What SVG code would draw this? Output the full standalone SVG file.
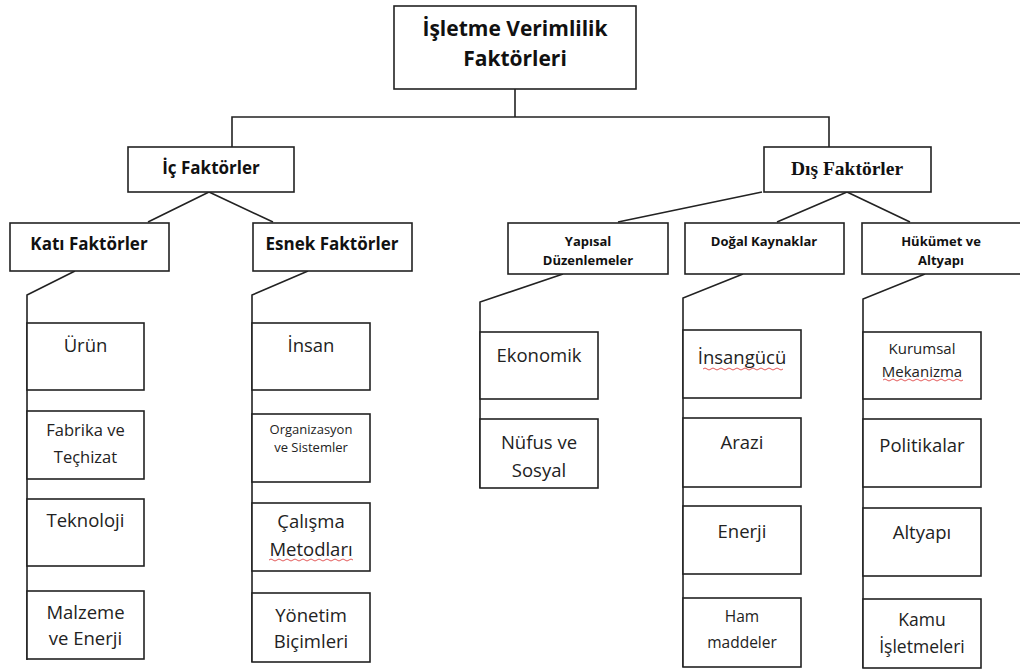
<svg xmlns="http://www.w3.org/2000/svg" width="1020" height="671" viewBox="0 0 1020 671">
<style>
.box{fill:#fff;stroke:#222;stroke-width:1.6}
.con{fill:none;stroke:#222;stroke-width:1.6}
.t{font-family:"Open Sans","Noto Sans",sans-serif;fill:#222;text-anchor:middle}
.b{font-weight:bold;fill:#111}
.serif{font-family:"Liberation Serif","Times New Roman",serif;font-weight:bold;fill:#111;text-anchor:middle}
.r{font-size:18.5px}
.sq{fill:none;stroke:#e04848;stroke-width:0.9}
</style>
<rect width="1020" height="671" fill="#fff"/>
<g id="connectors">
<path class="con" d="M515,89 V117 M232,147 V117 H829 V147"/>
<path class="con" d="M209,192 L148,222 M209,192 L273,222"/>
<path class="con" d="M75,271 L27,295 V660"/>
<path class="con" d="M308,271 L252,295 V662"/>
<path class="con" d="M762,192 L618,222 M847,192 L777,222 M847,192 L910,222"/>
<path class="con" d="M563,274 L480,302 V488"/>
<path class="con" d="M743,274 L683,298 V667"/>
<path class="con" d="M925,274 L863,299 V668"/>
</g>
<g id="root"><rect class="box" x="394" y="6" width="242" height="83"/>
<text class="t b" x="515" y="36" font-size="21">İşletme Verimlilik</text>
<text class="t b" x="515" y="66" font-size="21">Faktörleri</text></g>
<g id="ic"><rect class="box" x="128" y="147" width="166" height="45"/>
<text class="t b" x="211" y="174" font-size="17">İç Faktörler</text></g>
<g id="dis"><rect class="box" x="764" y="147" width="167" height="45"/>
<text class="serif" x="847" y="175" font-size="19.5">Dış Faktörler</text></g>
<g id="kati"><rect class="box" x="10" y="223" width="159" height="48"/>
<text class="t b" x="89" y="250" font-size="17">Katı Faktörler</text></g>
<g id="esnek"><rect class="box" x="253" y="223" width="159" height="48"/>
<text class="t b" x="332" y="250" font-size="17">Esnek Faktörler</text></g>
<g id="yapisal"><rect class="box" x="508" y="223" width="160" height="51"/>
<text class="t b" x="588" y="246" font-size="13">Yapısal</text>
<text class="t b" x="588" y="265" font-size="13">Düzenlemeler</text></g>
<g id="dogal"><rect class="box" x="685" y="223" width="159" height="51"/>
<text class="t b" x="764" y="246" font-size="13">Doğal Kaynaklar</text></g>
<g id="hukumet"><rect class="box" x="862" y="223" width="170" height="51"/>
<text class="t b" x="941" y="246" font-size="13">Hükümet ve</text>
<text class="t b" x="941" y="265" font-size="13">Altyapı</text></g>

<g id="urun"><rect class="box" x="27" y="323" width="117" height="67"/>
<text class="t r" x="85.5" y="352">Ürün</text></g>
<g id="fabrika"><rect class="box" x="27" y="411" width="117" height="68"/>
<text class="t" x="85.5" y="436" font-size="16.5">Fabrika ve</text>
<text class="t" x="85.5" y="463" font-size="16.5">Teçhizat</text></g>
<g id="teknoloji"><rect class="box" x="27" y="499" width="117" height="67"/>
<text class="t r" x="85.5" y="527">Teknoloji</text></g>
<g id="malzeme"><rect class="box" x="27" y="591" width="117" height="68"/>
<text class="t r" x="85.5" y="619">Malzeme</text>
<text class="t r" x="85.5" y="645">ve Enerji</text></g>

<g id="insan"><rect class="box" x="252" y="323" width="118" height="67"/>
<text class="t r" x="311" y="352">İnsan</text></g>
<g id="organizasyon"><rect class="box" x="252" y="414" width="118" height="68"/>
<text class="t" x="311" y="434" font-size="13" font-weight="500">Organizasyon</text>
<text class="t" x="311" y="452" font-size="13" font-weight="500">ve Sistemler</text></g>
<g id="calisma"><rect class="box" x="252" y="503" width="118" height="68"/>
<text class="t r" x="311" y="528">Çalışma</text>
<text class="t r" x="311" y="556">Metodları</text>
<path class="sq" d="M269,560 q2,-2 4,0 t4,0 t4,0 t4,0 t4,0 t4,0 t4,0 t4,0 t4,0 t4,0 t4,0 t4,0 t4,0 t4,0 t4,0 t4,0 t4,0 t4,0 t4,0 t4,0 t4,0"/></g>
<g id="yonetim"><rect class="box" x="252" y="593" width="118" height="69"/>
<text class="t r" x="311" y="622">Yönetim</text>
<text class="t r" x="311" y="648">Biçimleri</text></g>

<g id="ekonomik"><rect class="box" x="480" y="332" width="118" height="67"/>
<text class="t r" x="539" y="362">Ekonomik</text></g>
<g id="nufus"><rect class="box" x="480" y="419" width="118" height="69"/>
<text class="t r" x="539" y="449">Nüfus ve</text>
<text class="t r" x="539" y="477">Sosyal</text></g>

<g id="insangucu"><rect class="box" x="683" y="330" width="118" height="68"/>
<text class="t r" x="742" y="364">İnsangücü</text>
<path class="sq" d="M703,369 q2,-2 4,0 t4,0 t4,0 t4,0 t4,0 t4,0 t4,0 t4,0 t4,0 t4,0 t4,0 t4,0 t4,0 t4,0 t4,0 t4,0 t4,0 t4,0 t4,0 t4,0"/></g>
<g id="arazi"><rect class="box" x="683" y="418" width="118" height="69"/>
<text class="t r" x="742" y="449">Arazi</text></g>
<g id="enerji"><rect class="box" x="683" y="506" width="118" height="68"/>
<text class="t r" x="742" y="538">Enerji</text></g>
<g id="ham"><rect class="box" x="683" y="598" width="118" height="69"/>
<text class="t" x="742" y="622" font-size="15.5">Ham</text>
<text class="t" x="742" y="648" font-size="15.5">maddeler</text></g>

<g id="kurumsal"><rect class="box" x="863" y="332" width="118" height="67"/>
<text class="t" x="922" y="354" font-size="15">Kurumsal</text>
<text class="t" x="922" y="377" font-size="15">Mekanizma</text>
<path class="sq" d="M883,380 q2,-2 4,0 t4,0 t4,0 t4,0 t4,0 t4,0 t4,0 t4,0 t4,0 t4,0 t4,0 t4,0 t4,0 t4,0 t4,0 t4,0 t4,0 t4,0 t4,0 t4,0"/></g>
<g id="politikalar"><rect class="box" x="863" y="419" width="118" height="68"/>
<text class="t r" x="922" y="452">Politikalar</text></g>
<g id="altyapi"><rect class="box" x="863" y="508" width="118" height="68"/>
<text class="t r" x="922" y="539">Altyapı</text></g>
<g id="kamu"><rect class="box" x="863" y="599" width="118" height="69"/>
<text class="t" x="922" y="626" font-size="17.5">Kamu</text>
<text class="t" x="922" y="653" font-size="17.5">İşletmeleri</text></g>
</svg>
